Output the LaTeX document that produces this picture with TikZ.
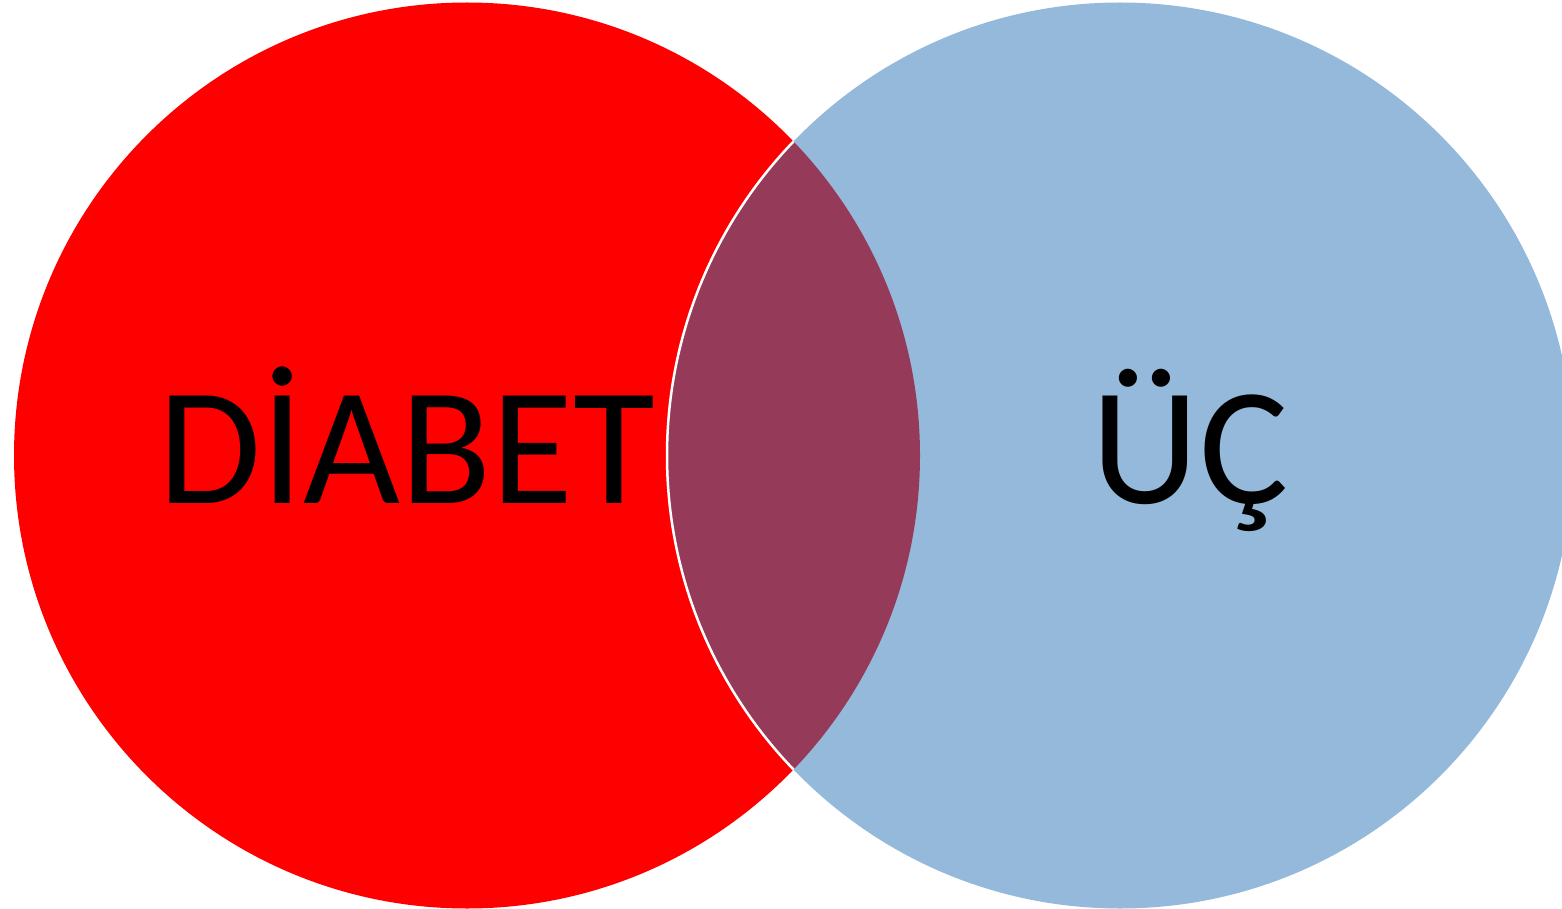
\documentclass[tikz,border=0pt]{standalone}
\usepackage{fontspec}
\setmainfont{Carlito}
\definecolor{diabetred}{RGB}{255,0,0}
\definecolor{ucblue}{RGB}{149,185,219}
\definecolor{overlapred}{RGB}{149,58,89}

\begin{document}
\begin{tikzpicture}[x=1pt,y=-1pt,
  venntext/.style={font=\fontsize{167.5}{190}\selectfont, anchor=base, inner sep=0pt}]
  % frame
  \useasboundingbox (0,0) rectangle (1562,909);
  \clip (0,0) rectangle (1562,909);
  \coordinate (redc) at (467,455.5);
  \coordinate (bluec) at (1120,455.5);

  % circles
  \fill[diabetred] (redc) circle[radius=453pt];
  \fill[ucblue] (bluec) circle[radius=453pt];

  % overlap
  \begin{scope}
    \clip (redc) circle[radius=453pt];
    \fill[overlapred] (bluec) circle[radius=453pt];
    \draw[white, line width=2.5pt] (bluec) circle[radius=453pt];
  \end{scope}

  % labels
  \node[venntext] (diabet) at (407,503) {DİABET};
  \node[venntext] (uc) at (1190,503) {ÜÇ};
\end{tikzpicture}
\end{document}
